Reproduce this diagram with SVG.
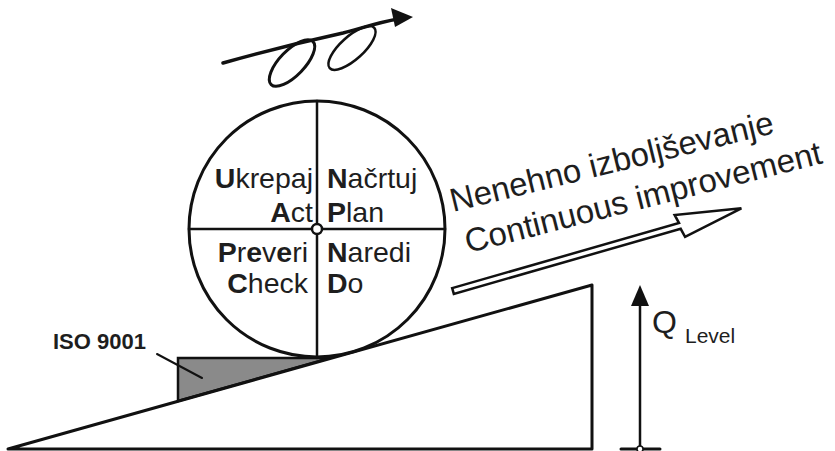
<svg xmlns="http://www.w3.org/2000/svg" width="835" height="451" viewBox="0 0 835 451">
<style>
.ln{fill:none;stroke:#111;stroke-linecap:round;stroke-linejoin:round}
.t{font-family:"Liberation Sans",Arial,sans-serif;fill:#1e1e1e}
.b{font-weight:bold}
.hd{fill:#111;stroke:none}
</style>
<rect width="835" height="451" fill="#fff"/>

<g id="ramp">
<polygon points="178,358 330,358 178,401" fill="#8a8a8a" stroke="#111" stroke-width="2.5" stroke-linejoin="miter"/>
<path class="ln" d="M8,449 L592,285 L592,449 Z" stroke-width="3" stroke-linejoin="miter"/>
</g>

<g id="pdca-circle">
<circle cx="317" cy="229" r="128" class="ln" stroke-width="3"/>
<line x1="317" y1="101" x2="317" y2="358" class="ln" stroke-width="2.5"/>
<line x1="189" y1="229" x2="445" y2="229" class="ln" stroke-width="2.5"/>
<circle cx="317" cy="229" r="5" fill="#fff" stroke="#111" stroke-width="2.5"/>
<text class="t" font-size="28.5" x="313" y="188" text-anchor="end"><tspan class="b">U</tspan>krepaj</text>
<text class="t" font-size="28.5" x="313" y="222" text-anchor="end"><tspan class="b">A</tspan>ct</text>
<text class="t" font-size="28.5" x="327" y="188"><tspan class="b">N</tspan>ačrtuj</text>
<text class="t" font-size="28.5" x="327" y="222"><tspan class="b">P</tspan>lan</text>
<text class="t" font-size="28.5" x="308" y="262" text-anchor="end"><tspan class="b">P</tspan>r<tspan class="b">e</tspan>v<tspan class="b">e</tspan>ri</text>
<text class="t" font-size="28.5" x="308" y="293" text-anchor="end"><tspan class="b">C</tspan>heck</text>
<text class="t" font-size="28.5" x="327" y="262"><tspan class="b">N</tspan>aredi</text>
<text class="t" font-size="28.5" x="327" y="293"><tspan class="b">D</tspan>o</text>
</g>

<g id="swirl">
<ellipse cx="292" cy="63" rx="30" ry="12.5" transform="rotate(-46 292 63)" class="ln" stroke-width="3"/>
<ellipse cx="352" cy="48" rx="30" ry="11.5" transform="rotate(-42 352 48)" class="ln" stroke-width="2.5"/>
</g>

<g id="iso-label">
<text class="t b" font-size="22" x="53" y="349">ISO 9001</text>
</g>

<g id="improvement-label">
<text class="t" font-size="33" transform="translate(453 212) rotate(-13.8)">Nenehno izboljševanje</text>
<text class="t" font-size="33" transform="translate(468 253) rotate(-14.2)">Continuous improvement</text>
</g>

<g id="q-level">
<text class="t" font-size="32" x="652" y="333">Q</text>
<text class="t" font-size="21" x="685" y="343">Level</text>
</g>

<g id="connectors">
<path class="ln" d="M223,63 C262,52 302,42 343,33 C362,28 380,22 398,19" stroke-width="3.5"/>
<polygon class="hd" points="413,17 391,8 395,27"/>
<polygon transform="translate(453 291) rotate(-16)" points="0,-3 236,-3 234,-12 300,0 238,12 236,3 0,3" fill="#fff" stroke="#111" stroke-width="2.5" stroke-linejoin="miter"/>
<line x1="157" y1="354" x2="202" y2="378" class="ln" stroke-width="2"/>
<line x1="621" y1="449" x2="660" y2="449" class="ln" stroke-width="3"/>
<line x1="640" y1="449" x2="640" y2="300" class="ln" stroke-width="2.5"/>
<polygon class="hd" points="640,285 631,306 649,306"/>
<circle cx="640" cy="449" r="3" fill="#fff" stroke="#111" stroke-width="1.5"/>
</g>
</svg>
